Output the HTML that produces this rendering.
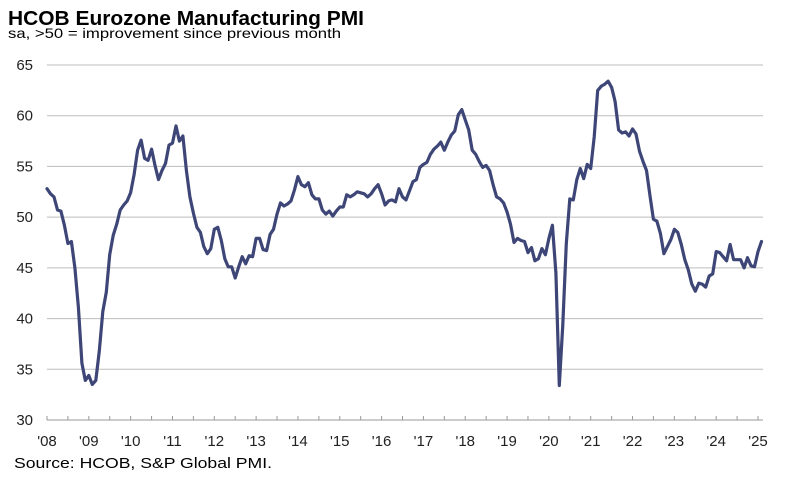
<!DOCTYPE html>
<html><head><meta charset="utf-8"><style>
html,body{margin:0;padding:0;background:#fff;}
body{width:786px;height:485px;overflow:hidden;font-family:"Liberation Sans",Arial,sans-serif;}
</style></head><body>
<svg id="chart" width="786" height="485" xmlns="http://www.w3.org/2000/svg">
<text x="8" y="25" font-size="20" font-weight="bold" fill="#000" textLength="356" lengthAdjust="spacingAndGlyphs">HCOB Eurozone Manufacturing PMI</text>
<text x="8" y="38" font-size="14" fill="#000" textLength="333" lengthAdjust="spacingAndGlyphs">sa, &gt;50 = improvement  since previous month</text>
<text x="14" y="468" font-size="15" fill="#000" textLength="258" lengthAdjust="spacingAndGlyphs">Source: HCOB, S&amp;P Global  PMI.</text>
<g id="grid"></g><g id="axes"></g><g id="series"></g>
</svg>
<script>
const yTicks=[30,35,40,45,50,55,60,65];
const yearLabels=["'08","'09","'10","'11","'12","'13","'14","'15","'16","'17","'18","'19","'20","'21","'22","'23","'24","'25"];
const pmi2008=[52.8,52.3,52.0,50.7,50.6,49.2,47.4,47.6,45.0,41.1,35.6,33.9];
const pmi2009=[34.4,33.5,33.9,36.8,40.7,42.6,46.3,48.2,49.3,50.7,51.2,51.6];
const pmi2010=[52.4,54.2,56.6,57.6,55.8,55.6,56.7,55.1,53.7,54.6,55.3,57.1];
const pmi2011=[57.3,59.0,57.5,58.0,54.6,52.0,50.4,49.0,48.5,47.1,46.4,46.9];
const pmi2012=[48.8,49.0,47.7,45.9,45.1,45.1,44.0,45.1,46.1,45.4,46.2,46.1];
const pmi2013=[47.9,47.9,46.8,46.7,48.3,48.8,50.3,51.4,51.1,51.3,51.6,52.7];
const pmi2014=[54.0,53.2,53.0,53.4,52.2,51.8,51.8,50.7,50.3,50.6,50.1,50.6];
const pmi2015=[51.0,51.0,52.2,52.0,52.2,52.5,52.4,52.3,52.0,52.3,52.8,53.2];
const pmi2016=[52.3,51.2,51.6,51.7,51.5,52.8,52.0,51.7,52.6,53.5,53.7,54.9];
const pmi2017=[55.2,55.4,56.2,56.7,57.0,57.4,56.6,57.4,58.1,58.5,60.1,60.6];
const pmi2018=[59.6,58.6,56.6,56.2,55.5,54.9,55.1,54.6,53.2,52.0,51.8,51.4];
const pmi2019=[50.5,49.3,47.5,47.9,47.7,47.6,46.5,47.0,45.7,45.9,46.9,46.3];
const pmi2020=[47.9,49.2,44.5,33.4,39.4,47.4,51.8,51.7,53.7,54.8,53.8,55.2];
const pmi2021=[54.8,57.9,62.5,62.9,63.1,63.4,62.8,61.4,58.6,58.3,58.4,58.0];
const pmi2022=[58.7,58.2,56.5,55.5,54.6,52.1,49.8,49.6,48.4,46.4,47.1,47.8];
const pmi2023=[48.8,48.5,47.3,45.8,44.8,43.4,42.7,43.5,43.4,43.1,44.2,44.4];
const pmi2024=[46.6,46.5,46.1,45.7,47.3,45.8,45.8,45.8,45.0,46.0,45.2,45.1];
const pmi2025=[46.6,47.6];
const values=[].concat(pmi2008,pmi2009,pmi2010,pmi2011,pmi2012,pmi2013,pmi2014,pmi2015,pmi2016,pmi2017,pmi2018,pmi2019,pmi2020,pmi2021,pmi2022,pmi2023,pmi2024,pmi2025);

const NS="http://www.w3.org/2000/svg";
const x0=47, monthW=711/204, yBase=420, yTop=65, yMin=30, yMax=65, xEnd=763;
function xScale(m){return x0+m*monthW;}
function yScale(v){return yBase-(v-yMin)/(yMax-yMin)*(yBase-yTop);}
function mk(tag,attrs,parent){const e=document.createElementNS(NS,tag);for(const k in attrs)e.setAttribute(k,attrs[k]);parent.appendChild(e);return e;}
const grid=document.getElementById('grid'),axes=document.getElementById('axes'),series=document.getElementById('series');
yTicks.forEach(function(t){
  if(t>yMin){const g=mk('line',{x1:x0,x2:xEnd,y1:yScale(t),y2:yScale(t),stroke:'#bdbdbd','stroke-width':1},grid);
  
  }
  const lb=mk('text',{x:33,y:yScale(t)+5,'text-anchor':'end','font-size':15,fill:'#222'},axes);
  lb.textContent=t;
  
  
});
const ax=mk('line',{x1:x0,x2:xEnd,y1:yBase,y2:yBase,stroke:'#999','stroke-width':1},axes);


for(let h=0;h<=34;h++){
  const tk=mk('line',{x1:xScale(h*6),x2:xScale(h*6),y1:yBase,y2:yBase-4,stroke:'#999','stroke-width':1},axes);
  
  
}
yearLabels.forEach(function(l,i){
  const t=mk('text',{x:xScale(i*12),y:446,'text-anchor':'middle','font-size':15,fill:'#222'},axes);
  t.textContent=l;
  
  
});
const d=values.map(function(v,i){return (i?'L':'M')+xScale(i).toFixed(1)+','+yScale(v).toFixed(1);}).join('');
const p=mk('path',{d:d,fill:'none',stroke:'#3d4677','stroke-width':3.2,'stroke-linejoin':'round','stroke-linecap':'round'},series);


</script>
</body></html>
